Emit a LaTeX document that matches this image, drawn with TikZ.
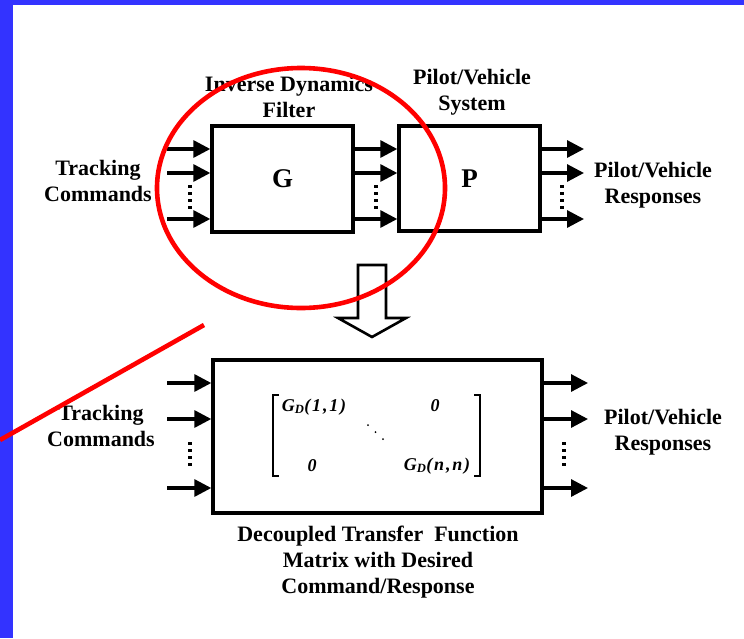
\documentclass[tikz,border=0pt]{standalone}
\usepackage{fontspec}
\setmainfont{Liberation Serif}
\newfontfamily\mtxfont[LetterSpace=10]{Liberation Serif}
\usetikzlibrary{arrows.meta}
\definecolor{slideblue}{RGB}{51,51,255}
\definecolor{markred}{RGB}{255,0,0}
\tikzset{
  blk/.style={draw, line width=3.4pt, inner sep=0pt, font=\bfseries\fontsize{27}{30}\selectfont},
  sig/.style={line width=3.2pt, -{Triangle[length=17pt,width=17pt]}},
  vdotline/.style={line width=3.2pt, dash pattern=on 3pt off 4pt},
  lbl/.style={align=center, inner sep=0pt, font=\bfseries\fontsize{22}{26}\selectfont},
  mtx/.style={inner sep=0pt, font=\mtxfont\bfseries\itshape\fontsize{18}{20}\selectfont},
  redmark/.style={markred, line width=4.6pt}
}
\begin{document}
\begin{tikzpicture}[x=1pt,y=-1pt]
\useasboundingbox (0,0) rectangle (744,638);
\fill[slideblue] (0,0) rectangle (744,4.5);
\fill[slideblue] (0,0) rectangle (12.5,638);

% top row
\node[blk, minimum width=141pt, minimum height=106pt] (G) at (282.5,179) {G};
\node[blk, minimum width=141pt, minimum height=105pt] (P) at (469.5,178.5) {P};

\coordinate (r1) at (0,149);
\coordinate (r2) at (0,173);
\coordinate (r3) at (0,219);
\coordinate (gi1) at (167,149);
\coordinate (gi2) at (167,173);
\coordinate (gi3) at (167,219);
\coordinate (po1) at (584,149);
\coordinate (po2) at (584,173);
\coordinate (po3) at (584,219);

\draw[sig] (gi1) -- (gi1 -| G.west);
\draw[sig] (gi2) -- (gi2 -| G.west);
\draw[sig] (gi3) -- (gi3 -| G.west);
\draw[sig] (G.east |- r1) -- (P.west |- r1);
\draw[sig] (G.east |- r2) -- (P.west |- r2);
\draw[sig] (G.east |- r3) -- (P.west |- r3);
\draw[sig] (P.east |- r1) -- (po1);
\draw[sig] (P.east |- r2) -- (po2);
\draw[sig] (P.east |- r3) -- (po3);

\draw[vdotline] (190,185) -- (190,210);
\draw[vdotline] (376,185) -- (376,210);
\draw[vdotline] (562,185) -- (562,210);

\node[lbl] (tc1) at (98,181) {Tracking\\Commands};
\node[lbl] (idf) at (289,97) {Inverse Dynamics\\Filter};
\node[lbl] (pvs) at (472,92) {Pilot/Vehicle\\System};
\node[lbl] (pvr1) at (653,185) {Pilot/Vehicle\\Responses};

% hollow arrow
\draw[line width=2.6pt, line join=miter, fill=white] (358,265) -- (386,265) -- (386,318) -- (406,318) -- (372,337) -- (338,318) -- (358,318) -- cycle;

% bottom row
\node[blk, minimum width=329pt, minimum height=153pt] (D) at (377.5,436.5) {};

\coordinate (s1) at (0,383);
\coordinate (s2) at (0,419);
\coordinate (s3) at (0,488);
\coordinate (di1) at (167,383);
\coordinate (di2) at (167,419);
\coordinate (di3) at (167,488);
\coordinate (do1) at (588,383);
\coordinate (do2) at (588,419);
\coordinate (do3) at (588,488);
\draw[sig] (di1) -- (di1 -| D.west);
\draw[sig] (di2) -- (di2 -| D.west);
\draw[sig] (di3) -- (di3 -| D.west);
\draw[sig] (D.east |- s1) -- (do1);
\draw[sig] (D.east |- s2) -- (do2);
\draw[sig] (D.east |- s3) -- (do3);

\draw[vdotline] (190,442) -- (190,467);
\draw[vdotline] (564,442) -- (564,467);

\node[lbl] (tc2) at (101,426) {Tracking\\Commands};
\node[lbl] (pvr2) at (663,432) {Pilot/Vehicle\\Responses};
\node[lbl] (cap) at (378,562) {Decoupled Transfer\hspace{0.5em}Function\\Matrix with Desired\\Command/Response};

% matrix
\draw[line width=1.4pt] (279,395) -- (273,395) -- (273,476) -- (279,476);
\draw[line width=1.4pt] (474,395) -- (480,395) -- (480,476) -- (474,476);
\node[mtx] (m11) at (314,407) {G\textsubscript{D}(1,1)};
\node[mtx] (m12) at (435,406) {0};
\node[mtx] (m21) at (312,466) {0};
\node[mtx] (m22) at (437,466) {G\textsubscript{D}(n,n)};
\fill (368,425) circle (1);
\fill (375.5,432) circle (1);
\fill (383,439) circle (1);

% red annotation
\draw[redmark] (301,188) ellipse [x radius=144, y radius=120];
\draw[redmark] (204,325) -- (0,440);
\end{tikzpicture}
\end{document}
